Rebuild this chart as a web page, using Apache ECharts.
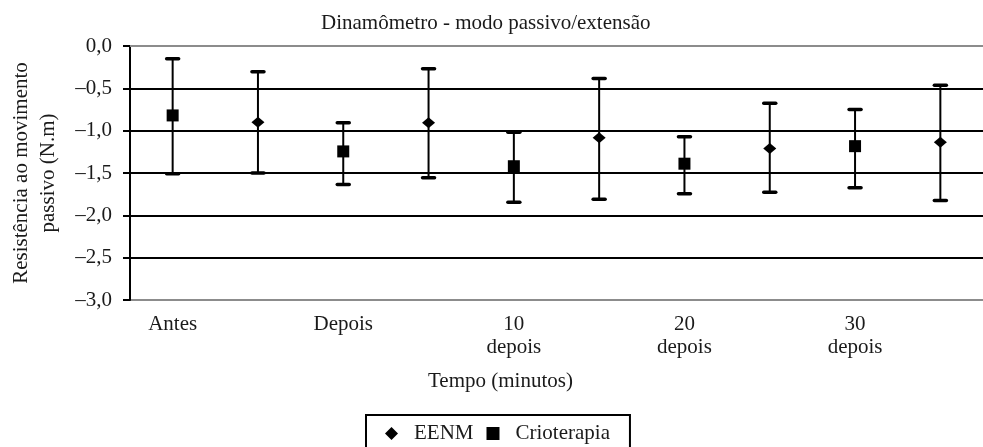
<!DOCTYPE html>
<html>
<head>
<meta charset="utf-8">
<script src="https://cdn.jsdelivr.net/npm/echarts@6/dist/echarts.min.js"></script>
<style>
html,body{margin:0;padding:0;background:#fff;}
#chart{width:983px;height:447px;}
</style>
</head>
<body>
<div id="chart"></div>
<script>
// ---- data ----
var timeLabels = ['Antes', 'Depois', '10\ndepois', '20\ndepois', '30\ndepois'];
var crioMean  = [-0.82, -1.245, -1.42, -1.39, -1.183];
var crioUpper = [-0.15, -0.907, -1.018, -1.072, -0.75];
var crioLower = [-1.51, -1.635, -1.844, -1.745, -1.675];
var eenmMean  = [-0.90, -0.907, -1.084, -1.21, -1.136];
var eenmUpper = [-0.305, -0.27, -0.384, -0.675, -0.463];
var eenmLower = [-1.50, -1.556, -1.81, -1.726, -1.824];
var yTicks = ['0,0', '\u20130,5', '\u20131,0', '\u20131,5', '\u20132,0', '\u20132,5', '\u20133,0'];

// ---- build ----
var FONT = '"Liberation Serif", "Times New Roman", serif';
var FS = 21;
var slots = [];
timeLabels.forEach(function (t) { slots.push(t); slots.push(t + '|EENM'); });

var crioPts = [], eenmPts = [], errCrio = [], errEenm = [];
for (var i = 0; i < timeLabels.length; i++) {
  crioPts.push([2 * i, crioMean[i]]);
  eenmPts.push([2 * i + 1, eenmMean[i]]);
  errCrio.push([2 * i, crioLower[i], crioUpper[i]]);
  errEenm.push([2 * i + 1, eenmLower[i], eenmUpper[i]]);
}

function renderErr(params, api) {
  var x = api.value(0);
  var lo = api.coord([x, api.value(1)]);
  var hi = api.coord([x, api.value(2)]);
  var hw = 6;
  var style = { stroke: '#000', lineWidth: 2 };
  var cap = { stroke: '#000', lineWidth: 3.5, lineCap: 'round' };
  return {
    type: 'group',
    children: [
      { type: 'line', shape: { x1: lo[0], y1: lo[1], x2: hi[0], y2: hi[1] }, style: style },
      { type: 'line', shape: { x1: hi[0] - hw, y1: hi[1], x2: hi[0] + hw, y2: hi[1] }, style: cap },
      { type: 'line', shape: { x1: lo[0] - hw, y1: lo[1], x2: lo[0] + hw, y2: lo[1] }, style: cap }
    ]
  };
}

var chart = echarts.init(document.getElementById('chart'), null, { renderer: 'canvas' });
chart.setOption({
  backgroundColor: '#fff',
  animation: false,
  textStyle: { fontFamily: FONT },
  title: [
    { text: 'Dinamômetro - modo passivo/extensão', left: 321, top: 13, padding: 0,
      textStyle: { fontFamily: FONT, fontSize: FS, fontWeight: 'normal', color: '#1a1a1a' } },
    { text: 'Tempo (minutos)', left: 428, top: 371, padding: 0,
      textStyle: { fontFamily: FONT, fontSize: FS, fontWeight: 'normal', color: '#1a1a1a' } }
  ],
  legend: {
    data: [
      { name: 'EENM', icon: 'diamond' },
      { name: 'Crioterapia', icon: 'rect' }
    ],
    left: 366, top: 415,
    padding: [8, 20, 30, 19],
    borderColor: '#000', borderWidth: 2,
    itemWidth: 13, itemHeight: 13, itemGap: 13,
    textStyle: { fontFamily: FONT, fontSize: FS, color: '#1a1a1a', padding: [0, 0, 0, 11], lineHeight: 21 }
  },
  grid: { left: 125, top: 46, width: 868, height: 254, containLabel: false },
  xAxis: {
    type: 'category',
    data: slots,
    boundaryGap: true,
    axisLine: { show: true, lineStyle: { color: '#8c8c8c', width: 2 } },
    axisTick: { show: false },
    axisLabel: {
      interval: 0, margin: 13,
      fontFamily: FONT, fontSize: FS, lineHeight: 23, color: '#1a1a1a',
      formatter: function (v) { return v.indexOf('|') >= 0 ? '' : v; }
    },
    splitLine: { show: false }
  },
  yAxis: {
    type: 'value',
    min: -3, max: 0, interval: 0.5,
    name: 'Resistência ao movimento\npassivo (N.m)',
    nameLocation: 'middle', nameGap: 68, nameRotate: 90,
    nameTextStyle: { fontFamily: FONT, fontSize: FS, lineHeight: 27, color: '#1a1a1a' },
    axisLine: { show: true, lineStyle: { color: '#000', width: 2 } },
    axisTick: { show: true, length: 7, inside: false, lineStyle: { color: '#000', width: 2 } },
    axisLabel: {
      margin: 18, fontFamily: FONT, fontSize: FS, color: '#1a1a1a',
      formatter: function (v) { return yTicks[Math.round(-v / 0.5)]; }
    },
    splitLine: { show: true, lineStyle: { color: ['#8c8c8c', '#000', '#000', '#000', '#000', '#000', '#000'], width: 2 } }
  },
  series: [
    { name: 'errCrio', type: 'custom', renderItem: renderErr, data: errCrio, encode: { x: 0, y: [1, 2] }, z: 3, silent: true },
    { name: 'errEenm', type: 'custom', renderItem: renderErr, data: errEenm, encode: { x: 0, y: [1, 2] }, z: 3, silent: true },
    { name: 'EENM', type: 'scatter', data: eenmPts, symbol: 'diamond', symbolSize: [13, 11],
      itemStyle: { color: '#000', opacity: 1 }, z: 5 },
    { name: 'Crioterapia', type: 'scatter', data: crioPts, symbol: 'rect', symbolSize: 12,
      itemStyle: { color: '#000', opacity: 1 }, z: 5 }
  ]
});
</script>
</body>
</html>
